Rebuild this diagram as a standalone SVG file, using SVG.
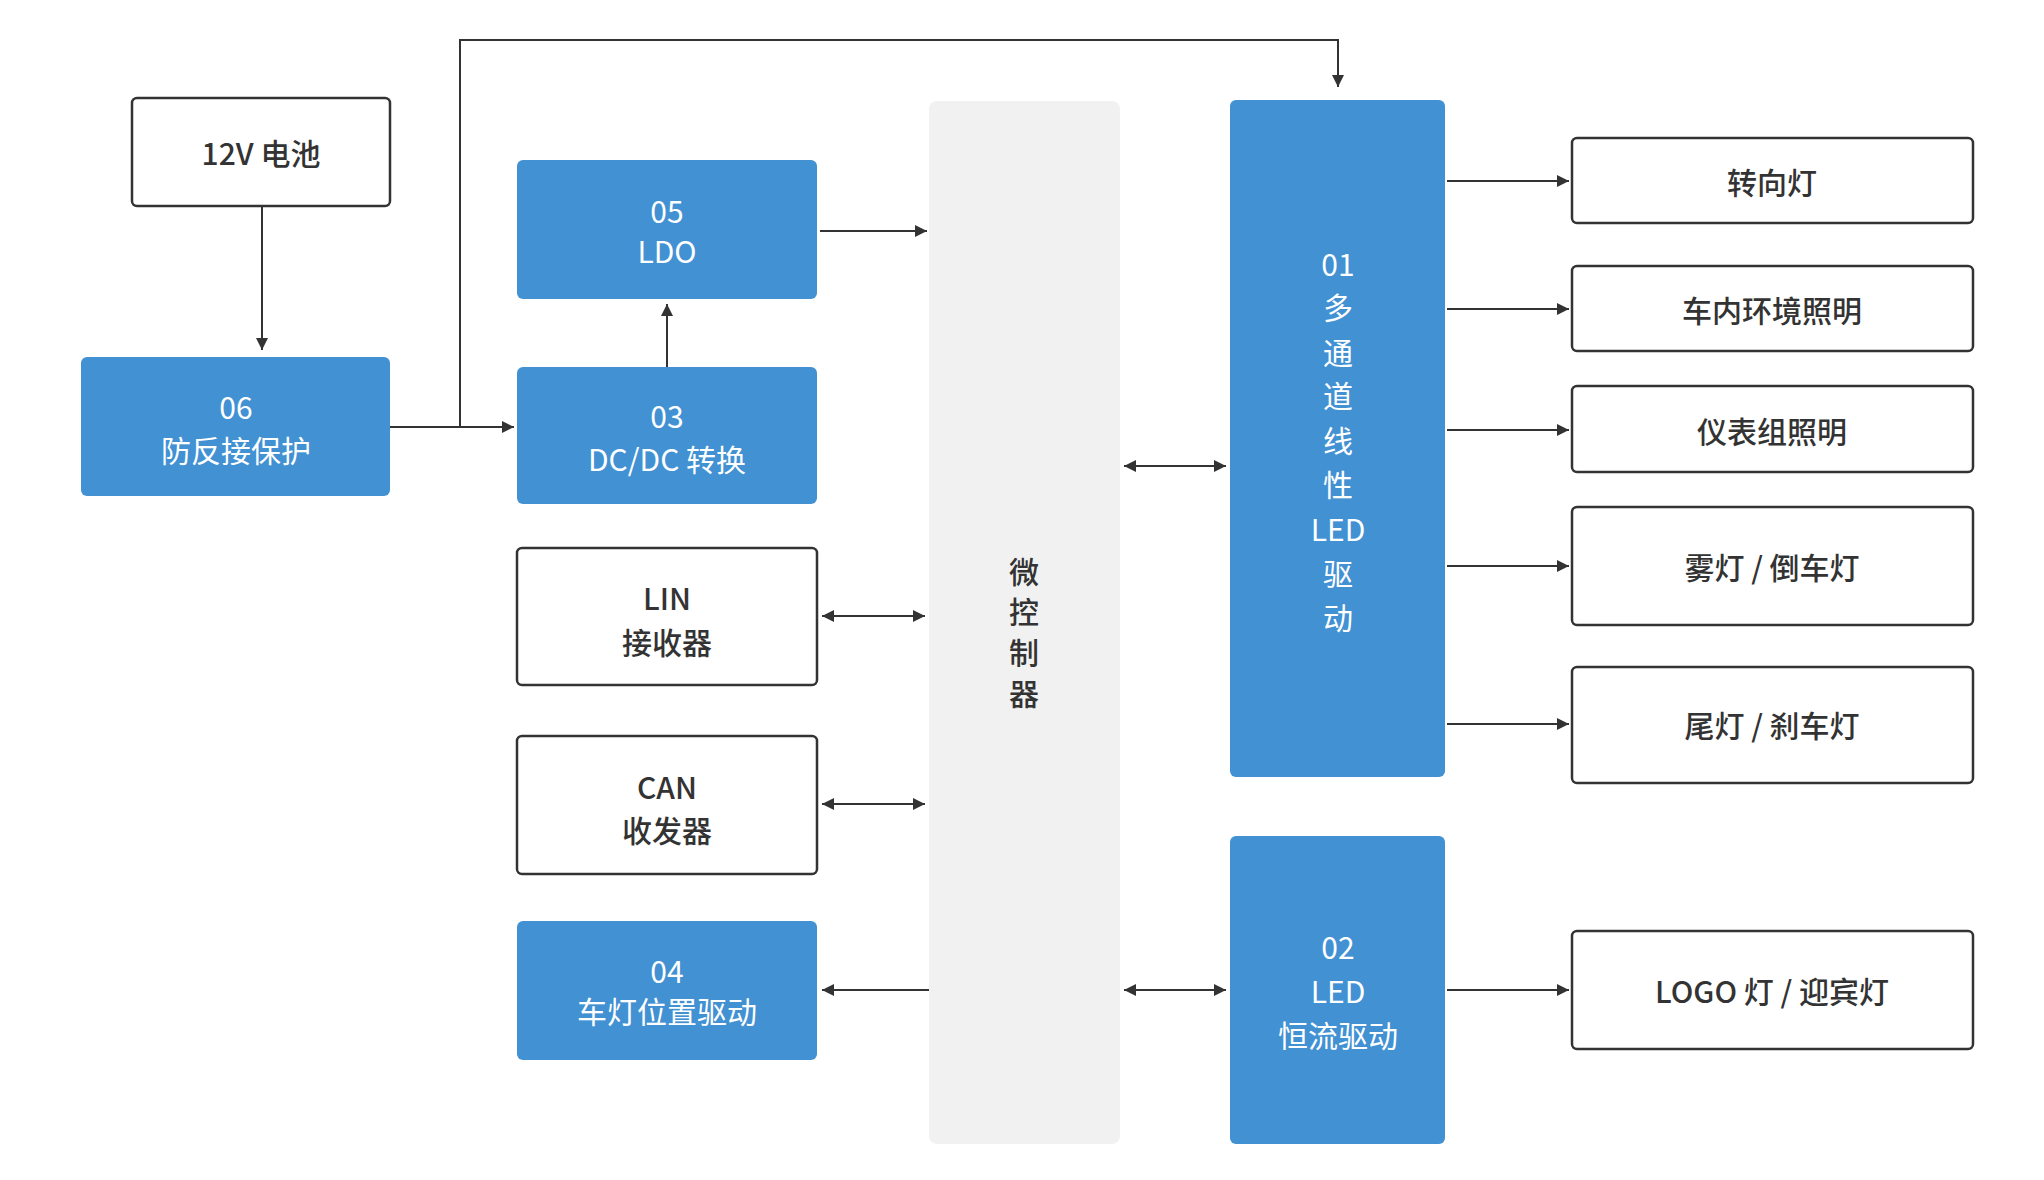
<svg xmlns="http://www.w3.org/2000/svg" width="2044" height="1180" viewBox="0 0 2044 1180">
<style>
.b{fill:#4191D3}
.w{fill:#fff;stroke:#333;stroke-width:2.5}
text{font-family:"Noto Sans CJK SC","Noto Sans",sans-serif;font-size:30px;text-anchor:middle;dominant-baseline:central}
.tw{fill:#fff}
.td{fill:#333;font-weight:500}
.c{fill:none;stroke:#333;stroke-width:2}
</style>
<defs>
<marker id="a" viewBox="0 0 10 10" refX="10" refY="5" markerWidth="12" markerHeight="12" markerUnits="userSpaceOnUse" orient="auto-start-reverse"><path d="M0,0L10,5L0,10z" fill="#333"/></marker>
</defs>
<rect width="2044" height="1180" fill="#fff"/>
<g id="battery"><rect class="w" x="132" y="98" width="258" height="108" rx="5"/><text class="td" x="261" y="152">12V 电池</text></g>
<g id="n06"><rect class="b" x="81" y="357" width="309" height="139" rx="6"/><text class="tw" x="236" y="406">06</text><text class="tw" x="236" y="449">防反接保护</text></g>
<g id="n05"><rect class="b" x="517" y="160" width="300" height="139" rx="6"/><text class="tw" x="667" y="210">05</text><text class="tw" x="667" y="250">LDO</text></g>
<g id="n03"><rect class="b" x="517" y="367" width="300" height="137" rx="6"/><text class="tw" x="667" y="415">03</text><text class="tw" x="667" y="458">DC/DC 转换</text></g>
<g id="lin"><rect class="w" x="517" y="548" width="300" height="137" rx="5"/><text class="td" x="667" y="597">LIN</text><text class="td" x="667" y="641">接收器</text></g>
<g id="can"><rect class="w" x="517" y="736" width="300" height="138" rx="5"/><text class="td" x="667" y="786">CAN</text><text class="td" x="667" y="829">收发器</text></g>
<g id="n04"><rect class="b" x="517" y="921" width="300" height="139" rx="6"/><text class="tw" x="667" y="970">04</text><text class="tw" x="667" y="1010">车灯位置驱动</text></g>
<g id="mcu"><rect x="929" y="101" width="191" height="1043" rx="8" fill="#F1F1F1"/>
<text class="td" x="1024" y="570">微</text><text class="td" x="1024" y="610">控</text><text class="td" x="1024" y="651">制</text><text class="td" x="1024" y="692">器</text></g>
<g id="n01"><rect class="b" x="1230" y="100" width="215" height="677" rx="6"/>
<text class="tw" x="1338" y="263">01</text><text class="tw" x="1338" y="306">多</text><text class="tw" x="1338" y="351">通</text><text class="tw" x="1338" y="394">道</text><text class="tw" x="1338" y="439">线</text><text class="tw" x="1338" y="483">性</text><text class="tw" x="1338" y="528">LED</text><text class="tw" x="1338" y="572">驱</text><text class="tw" x="1338" y="616">动</text></g>
<g id="n02"><rect class="b" x="1230" y="836" width="215" height="308" rx="6"/><text class="tw" x="1338" y="946">02</text><text class="tw" x="1338" y="990">LED</text><text class="tw" x="1338" y="1034">恒流驱动</text></g>
<g id="r1"><rect class="w" x="1572" y="138" width="401" height="85" rx="5"/><text class="td" x="1772" y="181">转向灯</text></g>
<g id="r2"><rect class="w" x="1572" y="266" width="401" height="85" rx="5"/><text class="td" x="1772" y="309">车内环境照明</text></g>
<g id="r3"><rect class="w" x="1572" y="386" width="401" height="86" rx="5"/><text class="td" x="1772" y="430">仪表组照明</text></g>
<g id="r4"><rect class="w" x="1572" y="507" width="401" height="118" rx="5"/><text class="td" x="1772" y="566">雾灯 / 倒车灯</text></g>
<g id="r5"><rect class="w" x="1572" y="667" width="401" height="116" rx="5"/><text class="td" x="1772" y="724">尾灯 / 刹车灯</text></g>
<g id="r6"><rect class="w" x="1572" y="931" width="401" height="118" rx="5"/><text class="td" x="1772" y="990">LOGO 灯 / 迎宾灯</text></g>
<g id="connectors">
<path class="c" d="M262,206V350" marker-end="url(#a)"/>
<path class="c" d="M390,427H514" marker-end="url(#a)"/>
<path class="c" d="M460,427V40H1338V87" marker-end="url(#a)"/>
<path class="c" d="M667,367V304" marker-end="url(#a)"/>
<path class="c" d="M820,231H927" marker-end="url(#a)"/>
<path class="c" d="M822,616H925" marker-start="url(#a)" marker-end="url(#a)"/>
<path class="c" d="M822,804H925" marker-start="url(#a)" marker-end="url(#a)"/>
<path class="c" d="M929,990H822" marker-end="url(#a)"/>
<path class="c" d="M1124,466H1226" marker-start="url(#a)" marker-end="url(#a)"/>
<path class="c" d="M1124,990H1226" marker-start="url(#a)" marker-end="url(#a)"/>
<path class="c" d="M1447,181H1569" marker-end="url(#a)"/>
<path class="c" d="M1447,309H1569" marker-end="url(#a)"/>
<path class="c" d="M1447,430H1569" marker-end="url(#a)"/>
<path class="c" d="M1447,566H1569" marker-end="url(#a)"/>
<path class="c" d="M1447,724H1569" marker-end="url(#a)"/>
<path class="c" d="M1447,990H1569" marker-end="url(#a)"/>
</g>
</svg>
